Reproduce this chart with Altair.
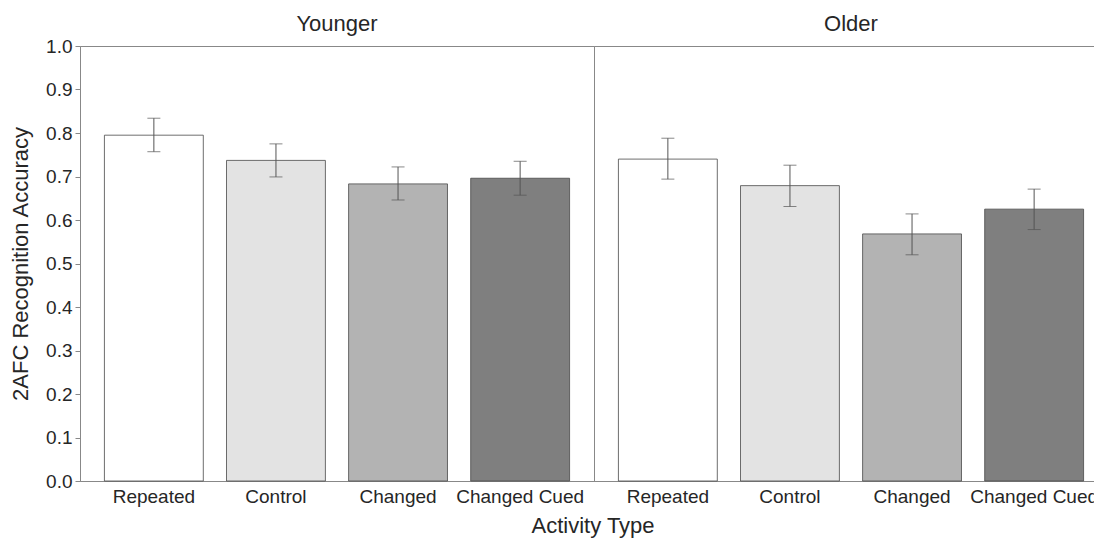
import altair as alt
import pandas as pd

ages = ["Younger"] * 4 + ["Older"] * 4
activities = ["Repeated", "Control", "Changed", "Changed Cued"] * 2
means = [0.795, 0.737, 0.683, 0.696, 0.740, 0.679, 0.568, 0.625]
lows = [0.757, 0.699, 0.646, 0.657, 0.694, 0.631, 0.520, 0.578]
highs = [0.834, 0.775, 0.722, 0.735, 0.788, 0.726, 0.614, 0.671]

order = ["Repeated", "Control", "Changed", "Changed Cued"]
fills = ["#ffffff", "#e3e3e3", "#b3b3b3", "#7f7f7f"]
y_ticks = [round(i * 0.1, 1) for i in range(11)]

df = pd.DataFrame({"age": ages, "activity": activities, "mean": means, "lo": lows, "hi": highs})

FONT = "Liberation Sans"
TXT = "#262626"

x_enc = alt.X(
    "activity:N",
    sort=order,
    scale=alt.Scale(paddingInner=0.19, paddingOuter=0.2),
    axis=alt.Axis(title=None, ticks=False, labelFontSize=19, labelPadding=6,
                  labelColor=TXT, labelFont=FONT, domainColor="#888", labelAngle=0),
)

bars = alt.Chart().mark_bar(stroke="#4a4a4a", strokeWidth=1, strokeOpacity=0.8).encode(
    x=x_enc,
    y=alt.Y("mean:Q", scale=alt.Scale(domain=[0, 1]),
            axis=alt.Axis(title="2AFC Recognition Accuracy", values=y_ticks, format=".1f",
                          grid=False, tickSize=5, tickColor="#888", domainColor="#888",
                          labelFontSize=19, labelColor=TXT, labelFont=FONT, labelPadding=3,
                          titleFontSize=22, titleFont=FONT, titleColor=TXT,
                          titleFontWeight="normal", titlePadding=13)),
    color=alt.Color("activity:N", scale=alt.Scale(domain=order, range=fills), legend=None),
)

rules = alt.Chart().mark_rule(color="#555", strokeWidth=1).encode(
    x=alt.X("activity:N", sort=order), y="lo:Q", y2="hi:Q"
)
cap_lo = alt.Chart().mark_tick(color="#555", thickness=1, size=13).encode(
    x=alt.X("activity:N", sort=order), y="lo:Q"
)
cap_hi = alt.Chart().mark_tick(color="#555", thickness=1, size=13).encode(
    x=alt.X("activity:N", sort=order), y="hi:Q"
)

layered = alt.layer(bars, rules, cap_lo, cap_hi).properties(width=514, height=435)

chart = alt.FacetChart(
    data=df,
    spec=layered,
    facet=alt.Facet("age:N", sort=["Younger", "Older"],
                    header=alt.Header(title=None, labelFontSize=22, labelFont=FONT,
                                      labelColor=TXT, labelPadding=10, labelOrient="top")),
    columns=2,
    spacing=0,
    bounds="flush",
).properties(
    title=alt.TitleParams("Activity Type", orient="bottom", anchor="middle", fontSize=22,
                          font=FONT, color=TXT, fontWeight="normal", offset=10, dx=34),
    padding={"left": 9, "top": 12, "right": -15, "bottom": 2},
).configure_view(stroke="#888", strokeWidth=1)

chart.save("out.html", embed_options={"renderer": "svg", "actions": False})
